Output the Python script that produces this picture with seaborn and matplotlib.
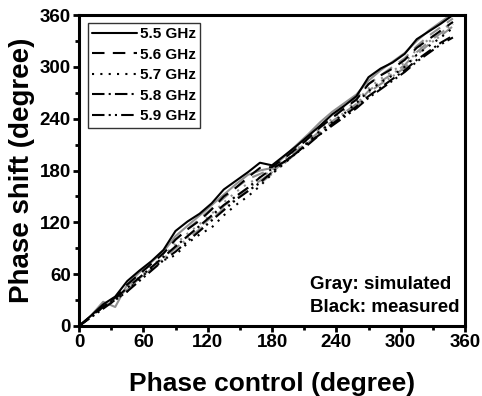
import matplotlib
matplotlib.use("Agg")
import matplotlib.pyplot as plt
import seaborn as sns
import pandas as pd

sns.set_theme(style="ticks")
plt.rcParams['font.family'] = ['Liberation Sans', 'DejaVu Sans']
plt.rcParams['font.weight'] = 'bold'
plt.rcParams['text.color'] = 'black'
plt.rcParams['axes.labelcolor'] = 'black'
plt.rcParams['xtick.color'] = 'black'
plt.rcParams['ytick.color'] = 'black'

phase_control = [0, 11.25, 22.5, 33.75, 45, 56.25, 67.5, 78.75, 90, 101.25, 112.5, 123.75,
                 135, 146.25, 157.5, 168.75, 180, 191.25, 202.5, 213.75, 225, 236.25, 247.5,
                 258.75, 270, 281.25, 292.5, 303.75, 315, 326.25, 337.5, 348.75]
freqs = ["5.5 GHz", "5.6 GHz", "5.7 GHz", "5.8 GHz", "5.9 GHz"]

meas_55 = [0, 12, 25, 34, 52, 64, 75, 88, 110, 121, 130, 142, 158, 168, 178, 189, 186, 197, 208, 220, 232, 245, 255, 266, 288, 298, 305, 315, 332, 341, 350, 360]
meas_56 = [0, 11, 23, 33, 48, 60, 72, 84, 100, 112, 122, 135, 150, 160, 172, 183, 184, 194, 205, 217, 230, 241, 252, 262, 280, 290, 298, 308, 322, 332, 342, 352]
meas_57 = [0, 11, 22, 30, 40, 55, 66, 76, 82, 96, 106, 114, 128, 140, 150, 162, 176, 188, 200, 213, 226, 236, 246, 258, 272, 282, 290, 300, 314, 324, 334, 345]
meas_58 = [0, 11, 22, 32, 44, 56, 68, 80, 92, 104, 116, 128, 140, 150, 160, 172, 182, 190, 200, 212, 222, 234, 244, 254, 266, 276, 286, 296, 308, 318, 328, 336]
meas_59 = [0, 10, 20, 30, 40, 52, 64, 76, 86, 98, 110, 122, 134, 146, 156, 166, 178, 190, 200, 210, 222, 232, 242, 252, 264, 274, 284, 294, 306, 316, 326, 334]

sim_55 = [0, 12, 28, 22, 48, 62, 74, 86, 104, 116, 128, 140, 152, 164, 175, 180, 183, 196, 209, 222, 236, 248, 258, 268, 284, 296, 306, 316, 330, 342, 352, 362]
sim_56 = [0, 11, 24, 32, 46, 60, 72, 84, 100, 112, 124, 136, 148, 160, 170, 176, 182, 194, 206, 219, 232, 244, 254, 264, 280, 290, 300, 310, 324, 336, 346, 356]
sim_57 = [0, 11, 23, 31, 44, 57, 69, 81, 95, 107, 118, 130, 143, 155, 165, 172, 180, 192, 204, 216, 229, 240, 250, 260, 275, 286, 295, 305, 320, 332, 342, 352]
sim_58 = [0, 11, 22, 31, 43, 55, 67, 79, 92, 104, 115, 126, 139, 150, 160, 168, 178, 190, 202, 214, 226, 237, 247, 257, 272, 283, 292, 302, 317, 329, 339, 350]
sim_59 = [0, 11, 22, 30, 42, 54, 66, 78, 90, 101, 112, 123, 136, 147, 157, 165, 176, 188, 200, 212, 224, 235, 245, 255, 270, 280, 289, 299, 314, 326, 336, 347]

measured = [meas_55, meas_56, meas_57, meas_58, meas_59]
simulated = [sim_55, sim_56, sim_57, sim_58, sim_59]
styles = ['-', (0, (6, 4)), (0, (1, 3)), (0, (6, 2, 1, 2)), (0, (6, 2, 1, 2, 1, 2))]

fig = plt.figure(figsize=(4.82, 3.96), dpi=100)
ax = fig.add_axes([79/482, 1-326/396, 386/482, 311/396])

for f, ys, ls in zip(freqs, simulated, styles):
    df = pd.DataFrame({"x": phase_control, "y": ys})
    sns.lineplot(data=df, x="x", y="y", ax=ax, color="#909090", linestyle=ls, lw=1.5)
handles = []
for f, ys, ls in zip(freqs, measured, styles):
    df = pd.DataFrame({"x": phase_control, "y": ys})
    sns.lineplot(data=df, x="x", y="y", ax=ax, color="black", linestyle=ls, lw=1.5)
    handles.append(ax.lines[-1])

ax.set_xlim(0, 360)
ax.set_ylim(0, 360)
ax.set_xticks(range(0, 361, 60))
ax.set_yticks(range(0, 361, 60))
ax.set_xticks(range(30, 360, 60), minor=True)
ax.set_yticks(range(30, 360, 60), minor=True)
ax.tick_params(which='both', direction='out', width=2, labelsize=13.5, top=False, right=False,
               pad=2, colors='black')
ax.tick_params(which='major', length=4)
ax.tick_params(which='minor', length=3)
for lab in ax.get_xticklabels() + ax.get_yticklabels():
    lab.set_fontweight('bold')
for sp in ax.spines.values():
    sp.set_linewidth(2.2)
    sp.set_color('black')

ax.set_xlabel("Phase control (degree)", fontsize=19, fontweight='bold', labelpad=15,
              color='black')
ax.set_ylabel("Phase shift (degree)", fontsize=20, fontweight='bold', labelpad=3,
              color='black')

leg = ax.legend(handles, freqs, loc='upper left', bbox_to_anchor=(0.015, 0.985),
                fontsize=11, handlelength=2.9, handletextpad=0.2, labelspacing=0.42,
                borderpad=0.3, borderaxespad=0.2, frameon=True, fancybox=False, edgecolor='black')
leg.get_frame().set_linewidth(1.0)
for t in leg.get_texts():
    t.set_fontweight('bold')
    t.set_color('black')

ax.text(0.965, 0.132, "Gray: simulated", transform=ax.transAxes, ha='right', va='center',
        fontsize=13.5, fontweight='bold', color='black')
ax.text(0.985, 0.058, "Black: measured", transform=ax.transAxes, ha='right', va='center',
        fontsize=13.5, fontweight='bold', color='black')

fig.savefig("out.png", dpi=100)
